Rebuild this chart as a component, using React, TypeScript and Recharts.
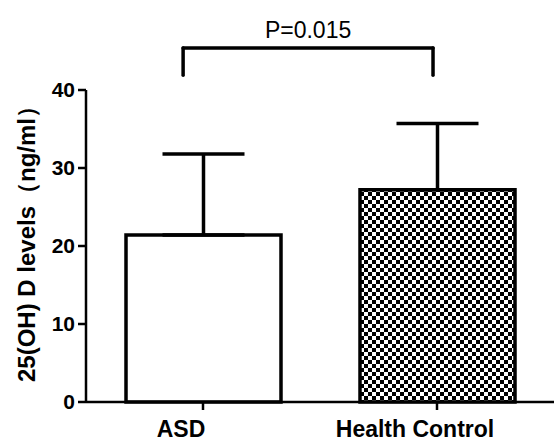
import { BarChart, Bar, XAxis, YAxis, ErrorBar, Cell, ReferenceLine } from 'recharts';

const groups = ['ASD', 'Health Control'];
const means = [21.4, 27.2];
const sdUpper = [10.4, 8.5];
const yTicks = [0, 10, 20, 30, 40];

// significance bracket, x as fraction of the plot width, y in ng/ml
const bracketX = [0.2075, 0.7415];
const bracketY = [41.9, 45.4];
const pLabel = 'P=0.015';

const data = groups.map((g, i) => ({ group: g, mean: means[i], err: [0, sdUpper[i]] }));

const font = 'Liberation Sans, Arial, sans-serif';

export default function App() {
  return (
    <div style={{ position: 'absolute', left: 0, top: 0, width: 554, height: 444, background: '#fff' }}>
      <BarChart width={554} height={444} data={data} margin={{ top: 90, right: 0, bottom: 0, left: 0 }}>
        <defs>
          <pattern id="checker" width="8" height="8" patternUnits="userSpaceOnUse">
            <rect width="8" height="8" fill="#fff" />
            <rect width="4" height="4" fill="#000" />
            <rect x="4" y="4" width="4" height="4" fill="#000" />
          </pattern>
        </defs>
        <XAxis
          dataKey="group"
          height={42}
          axisLine={{ stroke: '#000', strokeWidth: 2.5 }}
          tickLine={{ stroke: '#000', strokeWidth: 2.5 }}
          tickSize={8}
          tickMargin={11}
          tick={{ fontSize: 23, fontWeight: 'bold', fill: '#000', fontFamily: font, dx: -22 }}
        />
        <XAxis xAxisId="bracket" type="number" domain={[0, 1]} allowDataOverflow hide />
        <YAxis
          width={86}
          domain={[0, 40]}
          ticks={yTicks}
          interval={0}
          axisLine={{ stroke: '#000', strokeWidth: 2.5 }}
          tickLine={{ stroke: '#000', strokeWidth: 2.5 }}
          tickSize={8}
          tickMargin={3}
          tick={{ fontSize: 21, fontWeight: 'bold', fill: '#000', fontFamily: font }}
          label={{
            value: '25(OH) D levels（ng/ml）',
            angle: -90,
            position: 'center',
            dx: -17,
            dy: -8,
            style: { fontSize: 24, fontWeight: 'bold', fill: '#000', fontFamily: font },
          }}
        />
        <Bar dataKey="mean" barSize={155} stroke="#000" strokeWidth={3.5} isAnimationActive={false}>
          {data.map((d, i) => (
            <Cell key={d.group} fill={i === 0 ? '#fff' : 'url(#checker)'} />
          ))}
          <ErrorBar dataKey="err" width={41} stroke="#000" strokeWidth={3.5} direction="y" />
        </Bar>
        <ReferenceLine
          xAxisId="bracket"
          ifOverflow="visible"
          segment={[{ x: bracketX[0], y: bracketY[1] }, { x: bracketX[1], y: bracketY[1] }]}
          stroke="#000"
          strokeWidth={3.5}
          strokeLinecap="round"
          label={{ value: pLabel, position: 'top', offset: 10, fill: '#000', fontSize: 23, fontFamily: font }}
        />
        {bracketX.map((x) => (
          <ReferenceLine
            key={x}
            xAxisId="bracket"
            ifOverflow="visible"
            segment={[{ x, y: bracketY[0] }, { x, y: bracketY[1] }]}
            stroke="#000"
            strokeWidth={3.5}
            strokeLinecap="round"
          />
        ))}
      </BarChart>
    </div>
  );
}
